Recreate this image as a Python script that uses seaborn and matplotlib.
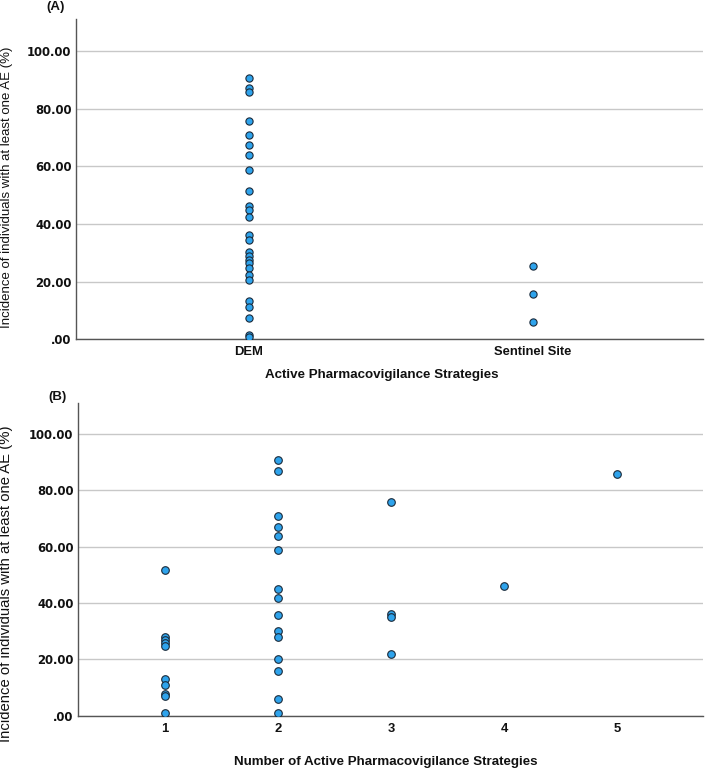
import matplotlib
matplotlib.use("Agg")
import matplotlib.pyplot as plt
import seaborn as sns
import pandas as pd

# Panel A data
dem_values = [90.5, 87.3, 85.8, 75.6, 71.0, 67.3, 64.0, 58.6, 51.6, 46.2, 44.8,
              42.3, 36.2, 34.6, 30.2, 28.8, 27.6, 26.4, 24.8, 22.4, 20.5, 13.4,
              11.3, 7.6, 1.4, 0.8]
sentinel_values = [25.6, 15.9, 6.0]
categories_a = ["DEM", "Sentinel Site"]

# Panel B data
n_strategies = [1] * 10 + [2] * 15 + [3] * 4 + [4] + [5]
incidence_b = [51.9, 28.0, 26.8, 25.9, 24.8, 12.9, 10.9, 7.9, 7.0, 0.9,
               90.9, 86.9, 70.9, 66.9, 63.9, 58.9, 44.9, 42.0, 35.9, 30.0, 28.0,
               20.0, 16.0, 5.9, 0.9,
               75.9, 36.3, 35.1, 21.9,
               46.0,
               85.9]

yticks = [0, 20, 40, 60, 80, 100]
ytick_labels = [".00", "20.00", "40.00", "60.00", "80.00", "100.00"]
ylabel = "Incidence of individuals with at least one AE (%)"

sns.set_theme(style="white")
plt.rcParams['font.family'] = ['Liberation Sans', 'DejaVu Sans']

df_a = pd.DataFrame({
    "strategy": ["DEM"] * len(dem_values) + ["Sentinel Site"] * len(sentinel_values),
    "incidence": dem_values + sentinel_values,
})
df_b = pd.DataFrame({"n": n_strategies, "incidence": incidence_b})

fig = plt.figure(figsize=(7.06, 7.68), dpi=100)
ax1 = fig.add_axes([0.107, 0.558, 0.889, 0.417])
ax2 = fig.add_axes([0.110, 0.068, 0.886, 0.407])

face = "#2ea3ec"
edge = "#1a2a3a"
txt = "#111111"

sns.stripplot(data=df_a, x="strategy", y="incidence", order=categories_a,
              jitter=False, ax=ax1, color=face, edgecolor=edge, linewidth=0.8,
              size=5.2, zorder=3)
sns.scatterplot(data=df_b, x="n", y="incidence", ax=ax2, color=face,
                edgecolor=edge, linewidth=0.8, s=30, zorder=3)

ax1.set_xlim(-0.61, 1.6)
ax2.set_xlim(0.23, 5.76)
ax2.set_xticks([1, 2, 3, 4, 5])
ax2.set_xticklabels(["1", "2", "3", "4", "5"])

for ax in (ax1, ax2):
    ax.set_ylim(0, 111)
    ax.set_yticks(yticks)
    ax.set_yticklabels(ytick_labels)
    ax.grid(axis="y", color="#c8c8c8", linewidth=1.0, zorder=0)
    ax.grid(axis="x", visible=False)
    ax.set_axisbelow(True)
    for s in ("top", "right"):
        ax.spines[s].set_visible(False)
    for s in ("left", "bottom"):
        ax.spines[s].set_color("#555555")
        ax.spines[s].set_linewidth(1.0)
    ax.tick_params(axis="both", length=0, colors=txt)
    ax.tick_params(axis="y", pad=3)
    ax.tick_params(axis="x", pad=5)
    for lab in ax.get_yticklabels():
        lab.set_fontweight("bold")
        lab.set_fontfamily("DejaVu Sans")
        lab.set_fontsize(8.4)
    for lab in ax.get_xticklabels():
        lab.set_fontweight("bold")
        lab.set_fontsize(9.4)

ax1.set_ylabel(ylabel, fontsize=9.5, color=txt)
ax1.yaxis.set_label_coords(-0.100, 0.474)
ax2.set_ylabel(ylabel, fontsize=10.7, color=txt)
ax2.yaxis.set_label_coords(-0.103, 0.421)

ax1.set_xlabel("Active Pharmacovigilance Strategies", fontsize=9.6,
               fontweight="bold", color=txt)
ax1.xaxis.set_label_coords(0.488, -0.093)
ax2.set_xlabel("Number of Active Pharmacovigilance Strategies", fontsize=9.6,
               fontweight="bold", color=txt)
ax2.xaxis.set_label_coords(0.492, -0.129)

fig.text(0.066, 0.999, "(A)", fontsize=9.5, fontweight="bold", va="top", ha="left", color=txt)
fig.text(0.069, 0.491, "(B)", fontsize=9.5, fontweight="bold", va="top", ha="left", color=txt)

fig.savefig("out.png", dpi=100)
